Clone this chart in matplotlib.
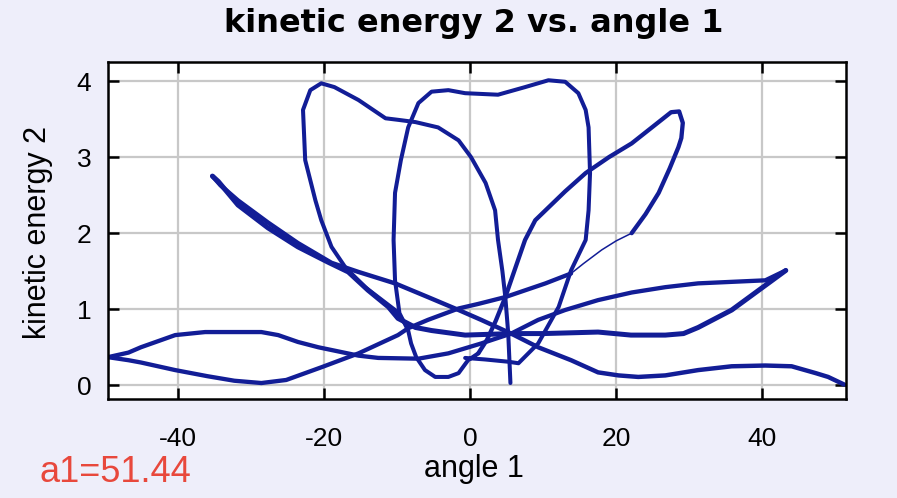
import matplotlib
matplotlib.use("Agg")
import matplotlib.pyplot as plt

# release from rest at a1, swing over to the far-left turn
release_angle = [51.2, 49.0, 47.3, 44.0, 40.4, 35.8, 31.2, 26.7, 23.0, 20.3, 17.5, 13.8,
                 9.3, 5.6, 1.5, -1.6, -5.8, -10.3, -15.3, -19.0, -23.6, -27.7, -31.8,
                 -34.2, -35.3]
release_ke = [0.01, 0.11, 0.16, 0.25, 0.26, 0.25, 0.20, 0.13, 0.11, 0.13, 0.17, 0.33,
              0.50, 0.68, 0.86, 0.99, 1.16, 1.34, 1.49, 1.61, 1.87, 2.14, 2.43, 2.63, 2.75]

# back from the turn, along the flat stretch out to the right turn
return_angle = [-35.3, -34.5, -31.8, -27.7, -23.6, -19.5, -16.7, -14.0, -11.2, -9.9, -7.5,
                -5.3, -0.7, 5.6, 10.0, 17.5, 22.0, 26.7, 29.2, 31.2, 35.8, 39.5, 43.2]
return_ke = [2.75, 2.68, 2.37, 2.07, 1.82, 1.62, 1.49, 1.25, 1.03, 0.88, 0.76,
             0.72, 0.66, 0.68, 0.68, 0.70, 0.66, 0.66, 0.68, 0.76, 0.99, 1.25, 1.51]

# right turn back over to the left edge
back_angle = [43.2, 40.4, 35.8, 31.2, 26.7, 22.1, 17.5, 13.0, 9.3, 5.6, 1.5, -3.0, -7.1,
              -12.6, -15.3, -20.8, -23.6, -26.3, -28.6, -36.3, -40.4, -45.1, -46.8, -49.6]
back_ke = [1.51, 1.38, 1.36, 1.34, 1.29, 1.22, 1.12, 0.99, 0.86, 0.68, 0.55, 0.42, 0.35,
           0.36, 0.39, 0.50, 0.57, 0.66, 0.70, 0.70, 0.66, 0.50, 0.43, 0.37]

# left edge, dipping low, then rising toward the right-hand lobe
rise_angle = [-49.6, -46.8, -45.1, -40.4, -36.0, -32.3, -28.6, -25.2, -20.3, -15.3,
              -9.9, -8.5, -5.8, -1.6, 1.1, 4.8, 10.3, 13.8]
rise_ke = [0.37, 0.33, 0.30, 0.20, 0.12, 0.06, 0.03, 0.07, 0.24, 0.42,
           0.66, 0.75, 0.86, 1.01, 1.07, 1.16, 1.34, 1.47]

# fast stretch up to the foot of the lobe
thin_angle = [13.8, 15.5, 18.0, 20.0, 22.1]
thin_ke = [1.47, 1.60, 1.78, 1.90, 2.00]

# right-hand lobe, then down through the crossing into the low U
lobe_angle = [22.1, 24.0, 25.8, 27.3, 28.5, 28.9, 29.1, 28.6, 27.5, 25.0, 22.1, 19.0,
              15.8, 13.0, 10.3, 8.9, 7.5, 6.2, 4.8, 3.5, 2.3, 1.1]
lobe_ke = [2.00, 2.25, 2.53, 2.85, 3.13, 3.25, 3.45, 3.60, 3.59, 3.40, 3.18, 3.00,
           2.79, 2.55, 2.30, 2.17, 1.91, 1.55, 1.16, 0.85, 0.60, 0.42]

# tall loop right of centre, starting from the low U
tall_angle = [1.1, -0.3, -1.6, -3.0, -4.8, -6.2, -7.4, -8.1, -8.5, -9.7, -10.3, -10.5,
              -10.3, -9.5, -8.5, -7.1, -5.3, -3.0, -0.7, 3.8, 7.5, 10.7, 13.0, 14.8,
              15.8, 16.2, 16.4, 16.2, 15.8, 13.8, 12.1, 9.3, 6.6, 5.2, 2.0, -0.7]
tall_ke = [0.42, 0.33, 0.16, 0.11, 0.11, 0.20, 0.37, 0.55, 0.72, 0.95, 1.38, 1.91,
           2.53, 2.96, 3.39, 3.71, 3.86, 3.88, 3.84, 3.82, 3.92, 4.01, 3.99, 3.84,
           3.62, 3.39, 2.79, 2.30, 1.91, 1.51, 1.03, 0.55, 0.29, 0.31, 0.34, 0.36]

# left loop over the top and straight down to the low point
left_angle = [-8.5, -10.3, -14.4, -17.1, -19.0, -20.4, -21.2, -22.6, -22.9, -21.9, -20.4,
              -18.6, -15.3, -11.6, -9.9, -7.5, -4.4, -1.6, 0.1, 2.1, 3.4, 3.8, 4.4, 4.8,
              5.2, 5.5]
left_ke = [0.76, 0.99, 1.29, 1.55, 1.82, 2.17, 2.43, 2.96, 3.62, 3.88, 3.97,
           3.92, 3.75, 3.51, 3.49, 3.46, 3.39, 3.22, 3.00, 2.66, 2.30, 1.91, 1.50, 1.16,
           0.68, 0.03]

a1 = 51.44
xticks = [-40, -20, 0, 20, 40]
yticks = [0, 1, 2, 3, 4]

line_color = "#121d96"
plt.rcParams["font.family"] = ["Liberation Sans", "DejaVu Sans"]
plt.rcParams["axes.unicode_minus"] = False

fig = plt.figure(figsize=(8.97, 4.98), dpi=100, facecolor="#eeeefa")
ax = fig.add_axes([0.1204, 0.1988, 0.8227, 0.6767])
ax.set_facecolor("white")

ax.plot(release_angle, release_ke, color=line_color, lw=3.2, solid_capstyle="round")
ax.plot(return_angle, return_ke, color=line_color, lw=3.6, solid_capstyle="round")
ax.plot(back_angle, back_ke, color=line_color, lw=3.1, solid_capstyle="round")
ax.plot(rise_angle, rise_ke, color=line_color, lw=3.1, solid_capstyle="round")
ax.plot(thin_angle, thin_ke, color=line_color, lw=1.1, solid_capstyle="round")
ax.plot(lobe_angle, lobe_ke, color=line_color, lw=3.1, solid_capstyle="round")
ax.plot(tall_angle, tall_ke, color=line_color, lw=2.9, solid_capstyle="round")
ax.plot(left_angle, left_ke, color=line_color, lw=2.9, solid_capstyle="round")

ax.set_xlim(-49.6, a1)
ax.set_ylim(-0.18, 4.25)
ax.set_xticks(xticks)
ax.set_yticks(yticks)
ax.grid(True, color="#c8c8c8", lw=1.6)
ax.set_axisbelow(True)
ax.tick_params(direction="in", length=8, width=1.8, top=True, right=True,
               labelsize=19, pad=12)
ax.tick_params(axis="x", pad=20)
for spine in ax.spines.values():
    spine.set_linewidth(1.8)

fig.text(0.528, 0.952, "kinetic energy 2 vs. angle 1", ha="center", va="center",
         fontsize=23, fontweight="bold", family=["DejaVu Sans"])
fig.text(0.042, 0.534, "kinetic energy 2", rotation=90, ha="center", va="center",
         fontsize=22)
fig.text(0.528, 0.058, "angle 1", ha="center", va="center", fontsize=22)
fig.text(0.044, 0.052, f"a1={a1}", ha="left", va="center", fontsize=26,
         color="#e8483c")

fig.savefig("out.png", dpi=100, facecolor=fig.get_facecolor())
